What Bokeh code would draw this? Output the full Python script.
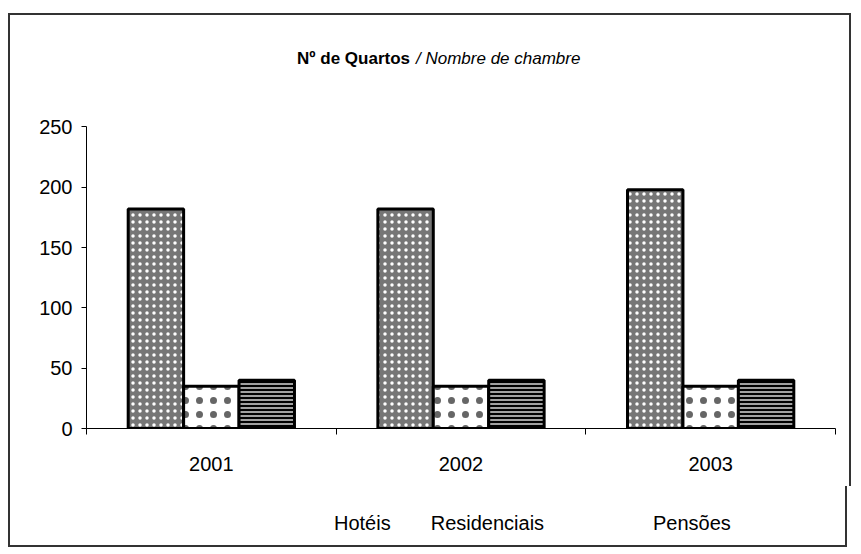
from bokeh.plotting import figure
from bokeh.models import (ColumnDataSource, FactorRange, Range1d, Legend, LegendItem,
                          LinearAxis, FixedTicker)
from bokeh.layouts import column
from bokeh.core.properties import value
from bokeh.transform import dodge
from bokeh.embed import file_html
from bokeh.resources import INLINE

years = ["2001", "2002", "2003"]
hoteis = [182, 182, 198]
residenciais = [35, 35, 35]
pensoes = [40, 40, 40]
series_names = ["Hotéis", "Residenciais", "Pensões"]
y_ticks = [0, 50, 100, 150, 200, 250]
title_bold = "Nº de Quartos"
title_italic = "/ Nombre de chambre"

source = ColumnDataSource(data=dict(years=years, hoteis=hoteis,
                                    residenciais=residenciais, pensoes=pensoes))

FONT = "Liberation Sans"
Y_MAX = 250
Y_TOP = 321.67      # frame extends above the value axis to hold the title
TITLE_Y = 306.7
BORDER = "2px solid #333333"

STYLE_H = dict(fill_color="#767676", hatch_pattern="dot", hatch_color="white",
               hatch_scale=7, hatch_weight=1.4, line_color="black", line_width=3)
STYLE_R = dict(fill_color="white", hatch_pattern="dot", hatch_color="#666666",
               hatch_scale=14, hatch_weight=0.4, line_color="black", line_width=3)
STYLE_P = dict(fill_color="#a0a0a0", hatch_pattern="horizontal_line", hatch_color="black",
               hatch_scale=4, hatch_weight=2, line_color="black", line_width=3)

p = figure(x_range=FactorRange(*years, range_padding=0), y_range=Range1d(0, Y_TOP),
           frame_width=745, frame_height=386, output_backend="svg", toolbar_location=None,
           min_border_left=76, min_border_right=18, min_border_top=25,
           min_border_bottom=60)
p.styles = {"border": BORDER, "border-bottom": "none"}
p.x_range.factor_padding = 0
p.outline_line_color = None
p.grid.visible = False

bw = 0.222
r1 = p.vbar(x=dodge("years", -bw, range=p.x_range), top="hoteis", width=bw, source=source, **STYLE_H)
r2 = p.vbar(x=dodge("years", 0, range=p.x_range), top="residenciais", width=bw, source=source, **STYLE_R)
r3 = p.vbar(x=dodge("years", bw, range=p.x_range), top="pensoes", width=bw, source=source, **STYLE_P)

# title, drawn inside the (taller) frame
p.text(x=[1.5], y=[TITLE_Y], text=[title_bold], text_font=value(FONT),
       text_font_size="17px", text_font_style="bold", text_align="right",
       text_baseline="middle", text_color="black", x_offset=-51)
p.text(x=[1.5], y=[TITLE_Y], text=[title_italic], text_font=value(FONT),
       text_font_size="17px", text_font_style="italic", text_align="left",
       text_baseline="middle", text_color="black", x_offset=-45)

# y axis
yax = p.yaxis[0]
yax.ticker = FixedTicker(ticks=y_ticks)
yax.bounds = (0, Y_MAX)
yax.minor_tick_line_color = None
yax.major_tick_in = 0
yax.major_tick_out = 5
yax.axis_line_color = "black"
yax.major_tick_line_color = "black"
yax.major_label_text_font = FONT
yax.major_label_text_font_size = "20px"
yax.major_label_text_color = "black"
yax.major_label_standoff = 9

# boundary ticks on x axis (inner), carrying the axis line
bax = LinearAxis(ticker=FixedTicker(ticks=[0, 1, 2, 3]), major_label_text_font_size="0px",
                 axis_line_color="black", major_tick_in=0, major_tick_out=6,
                 minor_tick_line_color=None, major_tick_line_color="black",
                 major_label_standoff=0)

# category labels (outer)
xax = p.xaxis[0]
xax.major_tick_line_color = None
xax.axis_line_color = None
xax.major_label_text_font = FONT
xax.major_label_text_font_size = "20px"
xax.major_label_text_color = "black"
xax.major_label_standoff = 16
p.below = [bax, xax]

# legend strip (separate small figure below the chart)
lf = figure(width=839, height=61, x_range=Range1d(0, 1), y_range=Range1d(0, 1),
            x_axis_type=None, y_axis_type=None, output_backend="svg",
            toolbar_location=None, min_border=0)
lf.styles = {"border": BORDER, "border-top": "none"}
lf.outline_line_color = None
lf.grid.visible = False
empty = ColumnDataSource(data=dict(x=[], top=[]))
g1 = lf.vbar(x="x", top="top", width=0.1, source=empty, **STYLE_H)
g2 = lf.vbar(x="x", top="top", width=0.1, source=empty, **STYLE_R)
g3 = lf.vbar(x="x", top="top", width=0.1, source=empty, **STYLE_P)

common = dict(orientation="horizontal", border_line_color=None, background_fill_alpha=0,
              label_text_font=FONT, label_text_font_size="20px", label_text_color="black",
              glyph_width=14, glyph_height=14, label_standoff=5, padding=0, margin=0)
leg_a = Legend(items=[LegendItem(label=series_names[0], renderers=[g1]),
                      LegendItem(label=series_names[1], renderers=[g2])],
               location=(229, 12), spacing=21, **common)
leg_b = Legend(items=[LegendItem(label=series_names[2], renderers=[g3])],
               location=(548, 12), spacing=0, **common)
lf.add_layout(leg_a, "center")
lf.add_layout(leg_b, "center")

layout = column(p, lf, spacing=0)
layout.margin = (13, 0, 0, 8)

open("out.html", "w").write(file_html(layout, INLINE))
